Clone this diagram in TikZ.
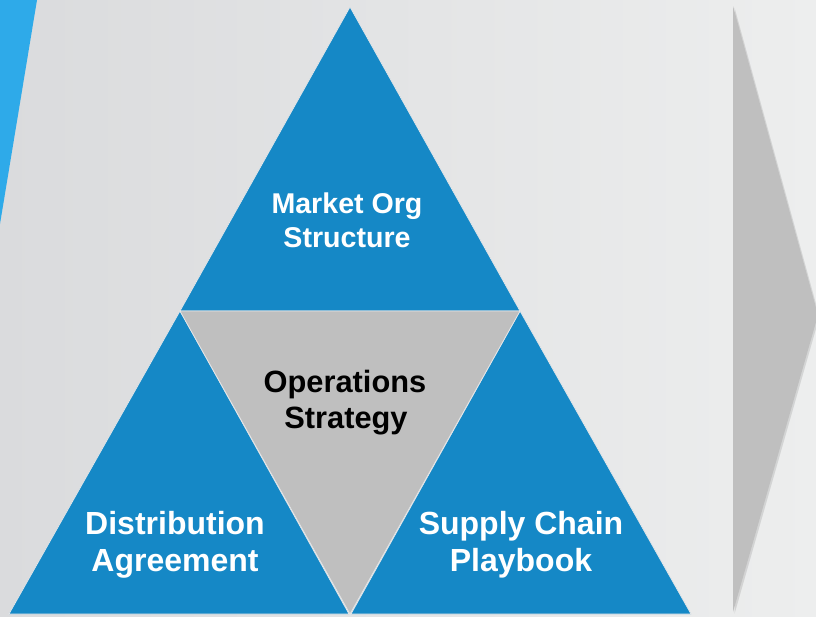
\documentclass[tikz,border=0pt]{standalone}
\usepackage{fontspec}
\setmainfont{Liberation Sans}
\definecolor{bgleft}{HTML}{DADBDD}
\definecolor{bgright}{HTML}{EDEEEE}
\definecolor{stripe}{HTML}{2EAAE9}
\definecolor{tblue}{HTML}{1588C6}
\definecolor{tgray}{HTML}{BFBFBF}
\definecolor{sep}{HTML}{E4E6E8}
\tikzset{
  tri/.style={fill=tblue, draw=sep, line width=0.7pt, line join=miter},
  midtri/.style={fill=tgray, draw=sep, line width=0.7pt},
  lblw/.style={anchor=base, text=white, font=\fontsize{28.6}{34}\selectfont\bfseries, inner sep=0pt},
  lblk/.style={anchor=base, text=black, font=\fontsize{30.8}{36}\selectfont\bfseries, inner sep=0pt},
  lblb/.style={anchor=base, text=white, font=\fontsize{32}{37}\selectfont\bfseries, inner sep=0pt},
}
\begin{document}
\begin{tikzpicture}[x=1pt,y=-1pt]
\useasboundingbox (0,0) rectangle (816,616);
\shade[left color=bgleft, right color=bgright] (0,0) rectangle (816,616);
% left stripe
\fill[stripe] (0,0) -- (37,0) -- (0,224) -- cycle;
% right chevron with faint shadow
\begin{scope}
\clip (0,0) rectangle (816,616);
\fill[black, opacity=0.10] (734.5,7.5) -- (819.5,316.5) -- (734.5,614) -- cycle;
\fill[tgray] (733,6) -- (818,315) -- (733,612) -- cycle;
\end{scope}
% pyramid
\path[tri] (350,7) -- (520,311) -- (180,311) -- cycle;
\path[tri] (180,311) -- (349,614) -- (9,614) -- cycle;
\path[tri] (520,311) -- (691,614) -- (351,614) -- cycle;
\path[midtri] (180,311) -- (520,311) -- (350,614) -- cycle;
% labels
\node[lblw] (mo1) at (347,213) {Market Org};
\node[lblw] (mo2) at (347,247) {Structure};
\node[lblk] (os1) at (345,392) {Operations};
\node[lblk] (os2) at (346,428) {Strategy};
\node[lblb] (da1) at (175,534) {Distribution};
\node[lblb] (da2) at (175,571) {Agreement};
\node[lblb] (sc1) at (521,534) {Supply Chain};
\node[lblb] (sc2) at (521,571) {Playbook};
\end{tikzpicture}
\end{document}
